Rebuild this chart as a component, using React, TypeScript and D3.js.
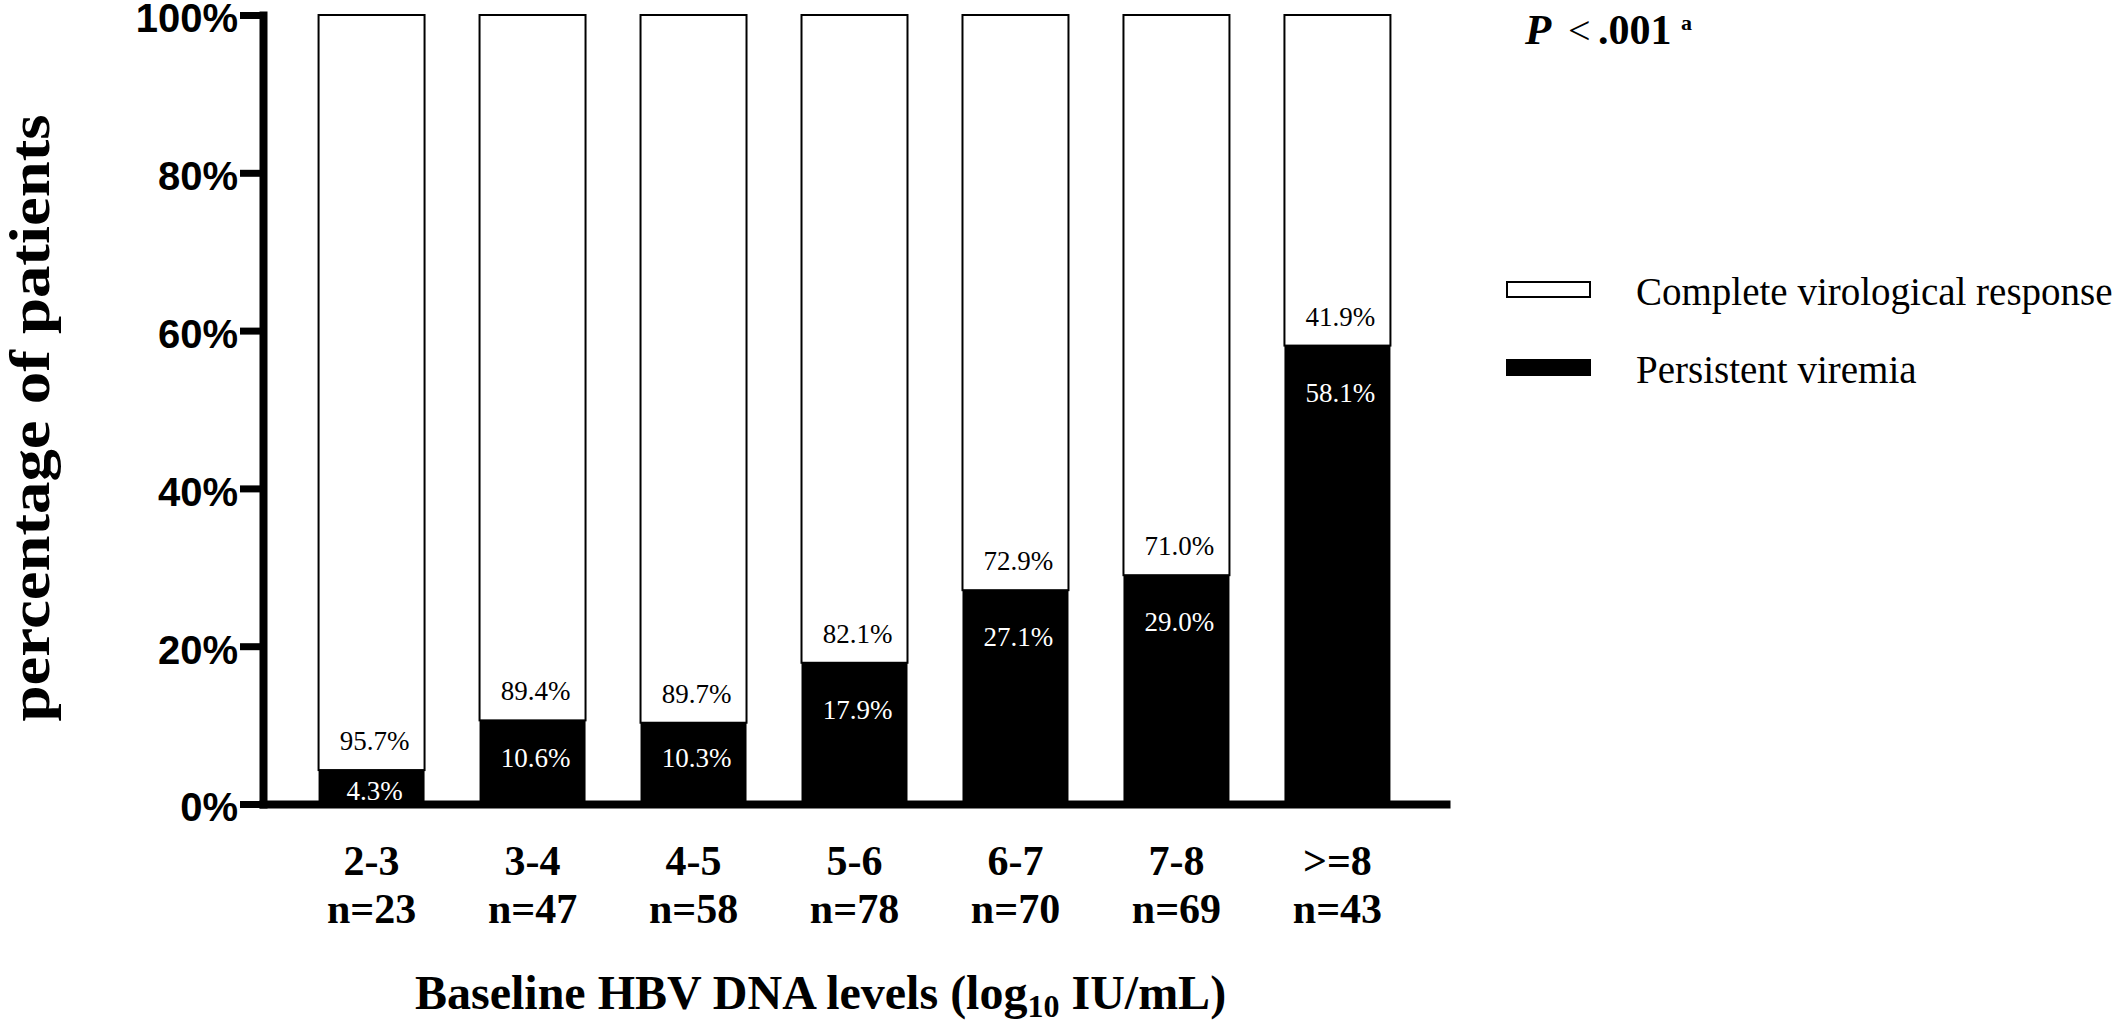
import { useEffect, useRef } from "react";
import * as d3 from "d3";

const categories = ["2-3", "3-4", "4-5", "5-6", "6-7", "7-8", ">=8"];
const counts = [23, 47, 58, 78, 70, 69, 43];
const persistent = [4.3, 10.6, 10.3, 17.9, 27.1, 29.0, 58.1];
const complete = [95.7, 89.4, 89.7, 82.1, 72.9, 71.0, 41.9];
const yTicks = [0, 20, 40, 60, 80, 100];
const seriesNames = ["Complete virological response", "Persistent viremia"];

const SERIF = "'Liberation Serif', 'Times New Roman', serif";
const SANS = "'Liberation Sans', Arial, sans-serif";

const W = 2127;
const H = 1026;

export default function App() {
  const svgRef = useRef<SVGSVGElement>(null);

  useEffect(() => {
    if (!svgRef.current) return;
    const svg = d3.select(svgRef.current);
    svg.selectAll("*").remove();

    const rows = categories.map((c, i) => ({
      cat: c,
      n: counts[i],
      persistent: persistent[i],
      complete: complete[i],
    }));

    const x = d3
      .scaleBand()
      .domain(categories)
      .range([259, 1450])
      .paddingInner(0.3416)
      .paddingOuter(0.37);

    const y = d3.scaleLinear().domain([0, 100]).range([804, 15]);

    const stacked = d3
      .stack<any>()
      .keys(["persistent", "complete"])(rows);

    // bars
    const layer = svg
      .selectAll("g.layer")
      .data(stacked)
      .join("g")
      .attr("class", "layer")
      .attr("fill", (d) => (d.key === "persistent" ? "#000" : "#fff"))
      .attr("stroke", "#000")
      .attr("stroke-width", (d) => (d.key === "persistent" ? 0 : 2));

    layer
      .selectAll("rect")
      .data((d) => d)
      .join("rect")
      .attr("x", (d: any) => x(d.data.cat)!)
      .attr("width", x.bandwidth())
      .attr("y", (d) => y(d[1]))
      .attr("height", (d) => y(d[0]) - y(d[1]));

    // value labels
    const labels = svg.append("g").attr("font-family", SERIF).attr("font-size", 27);
    rows.forEach((r) => {
      const cx = x(r.cat)! + x.bandwidth() / 2 + 3;
      const top = y(r.persistent);
      const bottom = y(0);
      labels
        .append("text")
        .attr("x", cx)
        .attr("y", top - 20)
        .attr("text-anchor", "middle")
        .attr("fill", "#000")
        .text(r.complete.toFixed(1) + "%");
      labels
        .append("text")
        .attr("x", cx)
        .attr("y", Math.max(Math.min(top + 56, bottom - 37), top + 30))
        .attr("text-anchor", "middle")
        .attr("fill", "#fff")
        .text(r.persistent.toFixed(1) + "%");
    });

    // Y axis
    const yAxis = svg
      .append("g")
      .attr("transform", "translate(263,0)")
      .call(
        d3
          .axisLeft(y)
          .tickValues(yTicks)
          .tickFormat((d) => d + "%")
          .tickSize(23)
          .tickSizeOuter(0)
          .tickPadding(2)
      );
    yAxis
      .select(".domain")
      .attr("stroke", "#000")
      .attr("stroke-width", 8)
      .attr("stroke-linecap", "square");
    yAxis.selectAll(".tick line").attr("stroke", "#000").attr("stroke-width", 7);
    yAxis
      .selectAll(".tick text")
      .attr("fill", "#000")
      .attr("font-family", SANS)
      .attr("font-weight", "bold")
      .attr("font-size", 40)
      .attr("dy", "0.42em");

    // X axis
    const xAxis = svg
      .append("g")
      .attr("transform", "translate(0,804)")
      .call(d3.axisBottom(x).tickSize(0).tickSizeOuter(0).tickFormat(() => ""));
    xAxis.select(".domain").attr("stroke", "#000").attr("stroke-width", 8);
    xAxis.selectAll(".tick text").remove();
    xAxis
      .selectAll(".tick")
      .append("text")
      .attr("fill", "#000")
      .attr("font-family", SERIF)
      .attr("font-weight", "bold")
      .attr("font-size", 42)
      .attr("text-anchor", "middle")
      .each(function (d: any) {
        const i = categories.indexOf(d);
        const t = d3.select(this);
        t.append("tspan").attr("x", 0).attr("y", 71).text(d);
        t.append("tspan").attr("x", 0).attr("y", 119).text("n=" + counts[i]);
      });

    // axis titles
    const xt = svg
      .append("text")
      .attr("x", 415)
      .attr("y", 1009)
      .attr("font-family", SERIF)
      .attr("font-weight", "bold")
      .attr("font-size", 48)
      .attr("fill", "#000");
    xt.append("tspan").text("Baseline HBV DNA levels (log");
    xt.append("tspan").attr("font-size", 32).attr("dy", 8).text("10");
    xt.append("tspan").attr("dy", -8).text(" IU/mL)");

    svg
      .append("text")
      .attr("transform", "translate(49,418) rotate(-90)")
      .attr("text-anchor", "middle")
      .attr("font-family", SERIF)
      .attr("font-weight", "bold")
      .attr("font-size", 56)
      .attr("textLength", 607)
      .attr("lengthAdjust", "spacingAndGlyphs")
      .attr("fill", "#000")
      .text("percentage of patients");

    // P value
    const p = svg
      .append("text")
      .attr("y", 44)
      .attr("font-family", SERIF)
      .attr("fill", "#000");
    p.append("tspan")
      .attr("x", 1525)
      .attr("font-weight", "bold")
      .attr("font-style", "italic")
      .attr("font-size", 43)
      .text("P");
    p.append("tspan").attr("x", 1568).attr("font-size", 40).text("<");
    p.append("tspan")
      .attr("x", 1598)
      .attr("font-weight", "bold")
      .attr("font-size", 42)
      .text(".001");
    p.append("tspan")
      .attr("x", 1681)
      .attr("y", 30)
      .attr("font-weight", "bold")
      .attr("font-size", 22)
      .text("a");

    // legend
    const legend = svg
      .selectAll("g.legend")
      .data(seriesNames)
      .join("g")
      .attr("class", "legend")
      .attr("transform", (_, i) => `translate(1507,${282 + i * 78})`);
    legend
      .append("rect")
      .attr("width", 83)
      .attr("height", 15)
      .attr("fill", (_, i) => (i === 0 ? "#fff" : "#000"))
      .attr("stroke", "#000")
      .attr("stroke-width", 2);
    legend
      .append("text")
      .attr("x", 129)
      .attr("y", 23)
      .attr("font-family", SERIF)
      .attr("font-size", 39)
      .attr("fill", "#000")
      .text((d) => d);
  }, []);

  return (
    <div style={{ position: "absolute", left: 0, top: 0, background: "#fff" }}>
      <svg ref={svgRef} width={W} height={H} style={{ display: "block" }} />
    </div>
  );
}
